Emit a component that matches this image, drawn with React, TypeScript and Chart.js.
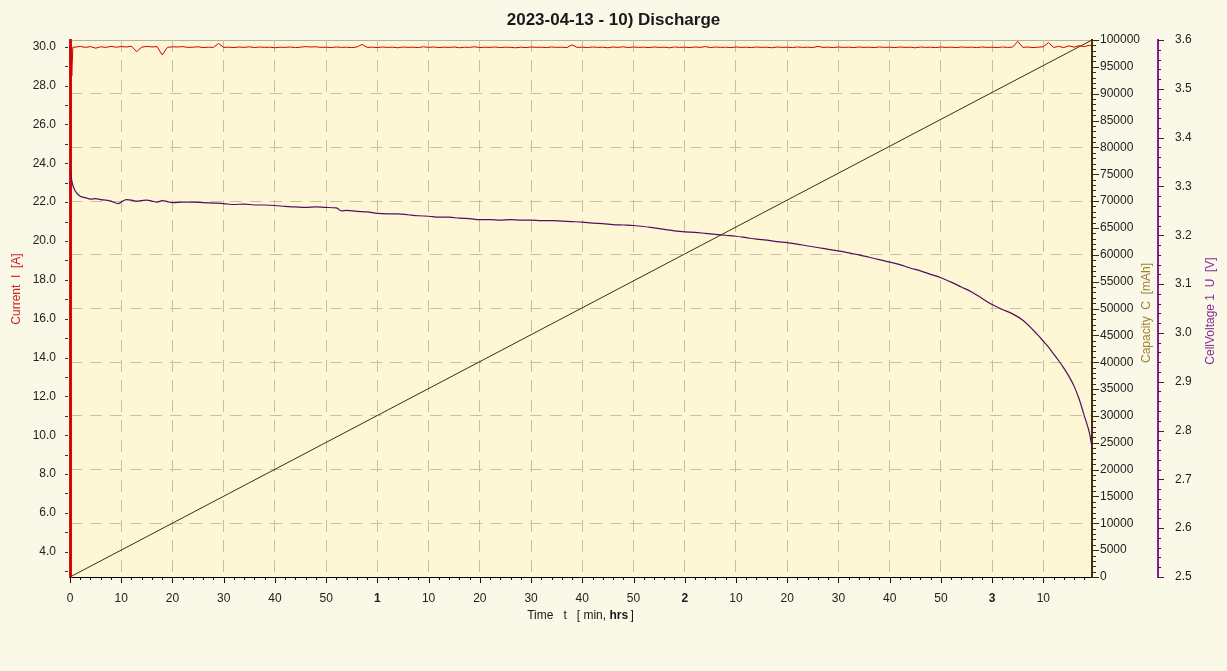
import React, { useEffect, useRef } from 'react';
import { Chart, registerables } from 'chart.js';

Chart.register(...registerables);

const TITLE = '2023-04-13 - 10) Discharge';
const FONT = '"Liberation Sans", Arial, sans-serif';

const X_MIN = 0;
const X_MAX = 199.5; // minutes

// Current [A]: start spike, then one reading per minute
const currentStartTime = [0, 0.15, 0.35, 0.55];
const currentStartValues = [2.6, 30.1, 28.5, 29.98];
const currentFirstMinute = 1;
const currentStepMinutes = 1;
const currentValues = [
  29.98, 30.02, 29.97, 30.01, 29.93, 30.00, 29.97, 30.02, 29.98, 30.01,
  29.99, 30.03, 29.75, 29.98, 30.02, 29.99, 30.01, 29.58, 29.97, 30.00,
  29.99, 30.01, 29.97, 29.98, 30.00, 29.96, 29.98, 29.97, 30.17, 29.97,
  29.98, 29.96, 29.99, 29.97, 30.00, 29.96, 29.99, 29.97, 29.98, 29.95,
  29.98, 29.97, 29.99, 29.96, 29.98, 30.01, 29.99, 30.00, 29.97, 29.98,
  29.96, 29.99, 29.97, 29.98, 29.96, 29.99, 30.12, 29.97, 29.98, 29.96,
  29.99, 29.97, 29.98, 29.95, 29.99, 29.97, 29.98, 29.96, 30.00, 29.97,
  29.99, 29.96, 29.98, 29.97, 29.99, 29.95, 29.98, 29.97, 30.00, 29.96,
  29.98, 29.97, 29.99, 29.96, 29.98, 29.97, 29.95, 29.98, 29.96, 29.99,
  29.97, 29.98, 29.96, 29.99, 29.97, 29.98, 29.96, 30.10, 29.97, 29.98,
  29.96, 29.99, 29.97, 29.98, 29.95, 29.99, 29.97, 30.00, 29.96, 29.99,
  29.97, 29.98, 29.96, 29.99, 29.97, 29.98, 29.95, 29.99, 29.97, 29.98,
  29.96, 29.99, 29.97, 30.01, 29.96, 29.99, 29.97, 29.98, 29.96, 29.99,
  29.97, 29.98, 29.96, 29.99, 29.97, 29.98, 29.95, 29.99, 29.97, 29.98,
  29.96, 29.99, 29.97, 29.98, 29.96, 30.02, 29.97, 29.98, 29.96, 29.99,
  29.97, 29.98, 29.96, 29.99, 29.97, 29.98, 29.96, 29.99, 29.97, 29.98,
  29.96, 29.99, 29.97, 29.98, 29.95, 29.99, 29.97, 29.98, 29.96, 29.99,
  29.97, 29.98, 29.96, 29.99, 29.97, 29.98, 29.96, 29.99, 29.97, 29.98,
  29.96, 29.99, 29.97, 29.98, 30.28, 29.97, 29.99, 29.96, 29.98, 30.00,
  30.22, 29.97, 30.02, 29.96, 30.05, 29.98, 30.06, 30.01, 30.08,
];
const currentEndTime = [199.5];
const currentEndValues = [30.03];

// Capacity [mAh]
const capacityTime = [0, 60, 120, 180, 199.5];
const capacityValues = [0, 30080, 60160, 90240, 100000];

// Cell voltage [V]
const voltageTime = [
  0, 0.4, 1, 2, 3, 4, 5, 6, 7, 8, 9.4, 10, 11, 12, 13, 14, 15, 16, 17, 18, 19,
  20, 22, 24, 26, 28, 30, 32, 34, 36, 38, 40, 42, 44, 46, 48, 50, 52, 53, 54, 56, 58,
  60, 62, 64, 66, 68, 70, 72, 74, 76, 78, 80, 82, 84, 86, 88, 90, 92, 94, 96, 98,
  100, 102, 104, 106, 108, 110, 112, 114, 116, 118, 120, 122, 124, 126, 128, 130,
  132, 134, 136, 138, 140, 142, 144, 146, 148, 150, 152, 154, 156, 158, 160, 162,
  164, 166, 168, 170, 172, 174, 176, 178, 180, 182, 184, 186, 188, 189, 190, 191,
  192, 193, 194, 195, 196, 197, 198, 199, 199.5,
];
const voltageValues = [
  3.340, 3.309, 3.291, 3.280, 3.277, 3.274, 3.275, 3.273, 3.272, 3.270, 3.265, 3.268,
  3.273, 3.272, 3.270, 3.271, 3.272, 3.270, 3.268, 3.271, 3.269,
  3.267, 3.268, 3.268, 3.267, 3.266, 3.265, 3.263, 3.264, 3.262, 3.262, 3.261, 3.259,
  3.258, 3.257, 3.258, 3.257, 3.256, 3.250, 3.251, 3.249, 3.248,
  3.245, 3.244, 3.244, 3.242, 3.240, 3.239, 3.237, 3.237, 3.235, 3.234, 3.232, 3.232,
  3.231, 3.232, 3.231, 3.231, 3.230, 3.230, 3.229, 3.228,
  3.227, 3.225, 3.224, 3.222, 3.221, 3.220, 3.218, 3.215, 3.212, 3.209, 3.207, 3.206,
  3.204, 3.202, 3.200, 3.198,
  3.195, 3.192, 3.190, 3.187, 3.185, 3.182, 3.178, 3.175, 3.171, 3.168, 3.164, 3.160,
  3.155, 3.150, 3.145, 3.140,
  3.133, 3.127, 3.120, 3.113, 3.104, 3.094, 3.084, 3.071, 3.058, 3.048, 3.039, 3.026,
  3.006, 2.995, 2.983, 2.971,
  2.957, 2.943, 2.928, 2.911, 2.891, 2.864, 2.830, 2.795, 2.765,
];

const PAGE_BG = '#FAF8E7';
const PLOT_BG = '#FDF7D6';
const GRID = '#C4BFA6';
const TICK_TEXT = '#222222';

function minuteLabel(v: number): string {
  const n = Math.round(v);
  if (n === 0) return '0';
  if (n % 60 === 0) return String(n / 60);
  return String(n % 60);
}

const decorPlugin = {
  id: 'decor',
  beforeDraw(chart: any) {
    const { ctx, chartArea: a } = chart;
    ctx.save();
    ctx.fillStyle = PLOT_BG;
    ctx.fillRect(a.left, a.top, a.right - a.left, a.bottom - a.top);
    ctx.strokeStyle = '#B4B09C';
    ctx.lineWidth = 1;
    ctx.beginPath();
    ctx.moveTo(a.left, a.top + 0.5);
    ctx.lineTo(a.right, a.top + 0.5);
    ctx.stroke();
    ctx.restore();
  },
  afterDraw(chart: any) {
    const { ctx, chartArea: a } = chart;
    const sx = chart.scales.x;
    const sy = chart.scales.y;
    const sc = chart.scales.y1;
    const sv = chart.scales.y2;
    ctx.save();
    ctx.lineWidth = 1;

    // x ticks (major 10 min, minor 2 min)
    ctx.strokeStyle = '#111';
    const nx = Math.round(198 / 2);
    for (let i = 0; i <= nx; i++) {
      const v = i * 2;
      const px = Math.round(sx.getPixelForValue(v)) + 0.5;
      const len = v % 10 === 0 ? 6 : 3;
      ctx.beginPath();
      ctx.moveTo(px, a.bottom);
      ctx.lineTo(px, a.bottom + len);
      ctx.stroke();
    }

    // current axis ticks (every 1 A)
    ctx.strokeStyle = '#333';
    for (let v = 3; v <= 30; v++) {
      const py = Math.round(sy.getPixelForValue(v)) + 0.5;
      ctx.beginPath();
      ctx.moveTo(a.left - 5, py);
      ctx.lineTo(a.left - 2, py);
      ctx.stroke();
    }

    // capacity axis ticks
    ctx.strokeStyle = '#3A2A08';
    for (let i = 0; i <= 100; i++) {
      const v = i * 1000;
      const py = Math.round(sc.getPixelForValue(v)) + 0.5;
      const len = i % 5 === 0 ? 7 : 4;
      ctx.beginPath();
      ctx.moveTo(a.right, py);
      ctx.lineTo(a.right + len, py);
      ctx.stroke();
    }

    // voltage axis ticks
    ctx.strokeStyle = '#3A1A40';
    const vx = sv.left;
    for (let i = 0; i <= 55; i++) {
      const v = 2.5 + i * 0.02;
      const py = Math.round(sv.getPixelForValue(v)) + 0.5;
      const len = i % 5 === 0 ? 6 : 3;
      ctx.beginPath();
      ctx.moveTo(vx, py);
      ctx.lineTo(vx + len, py);
      ctx.stroke();
    }

    // Title
    ctx.fillStyle = '#1A1A1A';
    ctx.font = 'bold 17px ' + FONT;
    ctx.textAlign = 'center';
    ctx.textBaseline = 'middle';
    ctx.fillText(TITLE, chart.width / 2, 20);

    // X axis title with bold "hrs"
    ctx.font = '12px ' + FONT;
    const p1 = 'Time   t   [ min, ';
    const p3 = ' ]';
    const w1 = ctx.measureText(p1).width;
    const w3 = ctx.measureText(p3).width;
    ctx.font = 'bold 12px ' + FONT;
    const p2 = 'hrs';
    const w2 = ctx.measureText(p2).width;
    const total = w1 + w2 + w3;
    const cx = (a.left + a.right) / 2;
    const x0 = cx - total / 2;
    ctx.textAlign = 'left';
    ctx.fillStyle = '#1A1A1A';
    ctx.font = '12px ' + FONT;
    ctx.fillText(p1, x0, 616);
    ctx.font = 'bold 12px ' + FONT;
    ctx.fillText(p2, x0 + w1, 616);
    ctx.font = '12px ' + FONT;
    ctx.fillText(p3, x0 + w1 + w2 - 1, 616);

    // Vertical axis titles
    const vtitle = (text: string, x: number, y: number, color: string) => {
      ctx.save();
      ctx.translate(x, y);
      ctx.rotate(-Math.PI / 2);
      ctx.fillStyle = color;
      ctx.font = '12px ' + FONT;
      ctx.textAlign = 'center';
      ctx.textBaseline = 'middle';
      ctx.fillText(text, 0, 0);
      ctx.restore();
    };
    vtitle('Current  I  [A]', 17, 289, '#D02020');
    vtitle('Capacity  C  [mAh]', 1147, 313, '#A08030');
    vtitle('CellVoltage 1  U  [V]', 1211, 311, '#8A2A9A');

    ctx.restore();
  },
};

export default function App() {
  const canvasRef = useRef<HTMLCanvasElement | null>(null);

  useEffect(() => {
    const canvas = canvasRef.current;
    if (!canvas) return;

    const currentData: { x: number; y: number }[] = [];
    currentStartTime.forEach((t, i) => currentData.push({ x: t, y: currentStartValues[i] }));
    currentValues.forEach((v, i) =>
      currentData.push({ x: currentFirstMinute + i * currentStepMinutes, y: v })
    );
    currentEndTime.forEach((t, i) => currentData.push({ x: t, y: currentEndValues[i] }));

    const capacityData = capacityTime.map((t, i) => ({ x: t, y: capacityValues[i] }));
    const voltageData = voltageTime.map((t, i) => ({ x: t, y: voltageValues[i] }));

    const tickFont = { family: FONT, size: 12 };
    const DASH = [12, 8];

    const chart = new Chart(canvas, {
      type: 'line',
      data: {
        datasets: [
          {
            label: 'Current',
            data: currentData,
            yAxisID: 'y',
            borderColor: '#D00000',
            borderWidth: 1,
            pointRadius: 0,
            tension: 0,
          },
          {
            label: 'Capacity',
            data: capacityData,
            yAxisID: 'y1',
            borderColor: '#3E3000',
            borderWidth: 1,
            pointRadius: 0,
            tension: 0,
          },
          {
            label: 'CellVoltage 1',
            data: voltageData,
            yAxisID: 'y2',
            borderColor: '#50105E',
            borderWidth: 1.2,
            pointRadius: 0,
            cubicInterpolationMode: 'monotone',
          },
        ],
      },
      options: {
        animation: false,
        responsive: true,
        maintainAspectRatio: false,
        devicePixelRatio: 1,
        layout: { padding: { top: 40, left: 0, right: 0, bottom: 0 } },
        plugins: {
          legend: { display: false },
          tooltip: { enabled: false },
          title: { display: false },
        },
        events: [],
        scales: {
          x: {
            type: 'linear',
            position: 'bottom',
            min: X_MIN,
            max: X_MAX,
            afterFit: (s: any) => {
              s.height = 94;
            },
            ticks: {
              stepSize: 10,
              includeBounds: false,
              autoSkip: false,
              maxRotation: 0,
              minRotation: 0,
              padding: 14,
              color: TICK_TEXT,
              font: (c: any) => ({
                family: FONT,
                size: 12,
                weight:
                  c.tick && c.tick.value > 0 && Math.round(c.tick.value) % 60 === 0
                    ? 'bold'
                    : 'normal',
              }),
              callback: (v: any) => minuteLabel(Number(v)),
            },
            grid: {
              drawTicks: false,
              lineWidth: 1,
              color: (c: any) =>
                c.tick && c.tick.value > 0 ? GRID : 'rgba(0,0,0,0)',
            },
            border: { display: true, color: '#000000', width: 1, dash: DASH },
          },
          y: {
            type: 'linear',
            position: 'left',
            min: 2.7,
            max: 30.35,
            afterFit: (s: any) => {
              s.width = 70;
            },
            ticks: {
              stepSize: 2,
              includeBounds: false,
              autoSkip: false,
              padding: 14,
              color: TICK_TEXT,
              font: tickFont,
              callback: (v: any) => Number(v).toFixed(1),
            },
            grid: { drawOnChartArea: false, drawTicks: false },
            border: { display: true, color: '#D41010', width: 3 },
          },
          y1: {
            type: 'linear',
            position: 'right',
            min: 0,
            max: 100000,
            afterFit: (s: any) => {
              s.width = 66;
            },
            ticks: {
              stepSize: 5000,
              autoSkip: false,
              padding: 8,
              color: TICK_TEXT,
              font: tickFont,
              callback: (v: any) => String(Math.round(Number(v))),
            },
            grid: {
              drawOnChartArea: true,
              drawTicks: false,
              lineWidth: 1,
              color: (c: any) =>
                c.tick &&
                Math.round(c.tick.value) % 10000 === 0 &&
                c.tick.value > 0 &&
                c.tick.value < 100000
                  ? GRID
                  : 'rgba(0,0,0,0)',
            },
            border: { display: true, color: '#4A3008', width: 2, dash: DASH },
          },
          y2: {
            type: 'linear',
            position: 'right',
            min: 2.5,
            max: 3.6,
            afterFit: (s: any) => {
              s.width = 69;
            },
            ticks: {
              stepSize: 0.1,
              autoSkip: false,
              padding: 17,
              color: TICK_TEXT,
              font: tickFont,
              callback: (v: any) => Number(v).toFixed(1),
            },
            grid: { drawOnChartArea: false, drawTicks: false },
            border: { display: true, color: '#8A1A9A', width: 2 },
          },
        },
      } as any,
      plugins: [decorPlugin],
    });

    return () => {
      chart.destroy();
    };
  }, []);

  return (
    <div
      style={{
        position: 'fixed',
        left: 0,
        top: 0,
        width: 1227,
        height: 671,
        background: PAGE_BG,
      }}
    >
      <canvas ref={canvasRef} />
    </div>
  );
}
